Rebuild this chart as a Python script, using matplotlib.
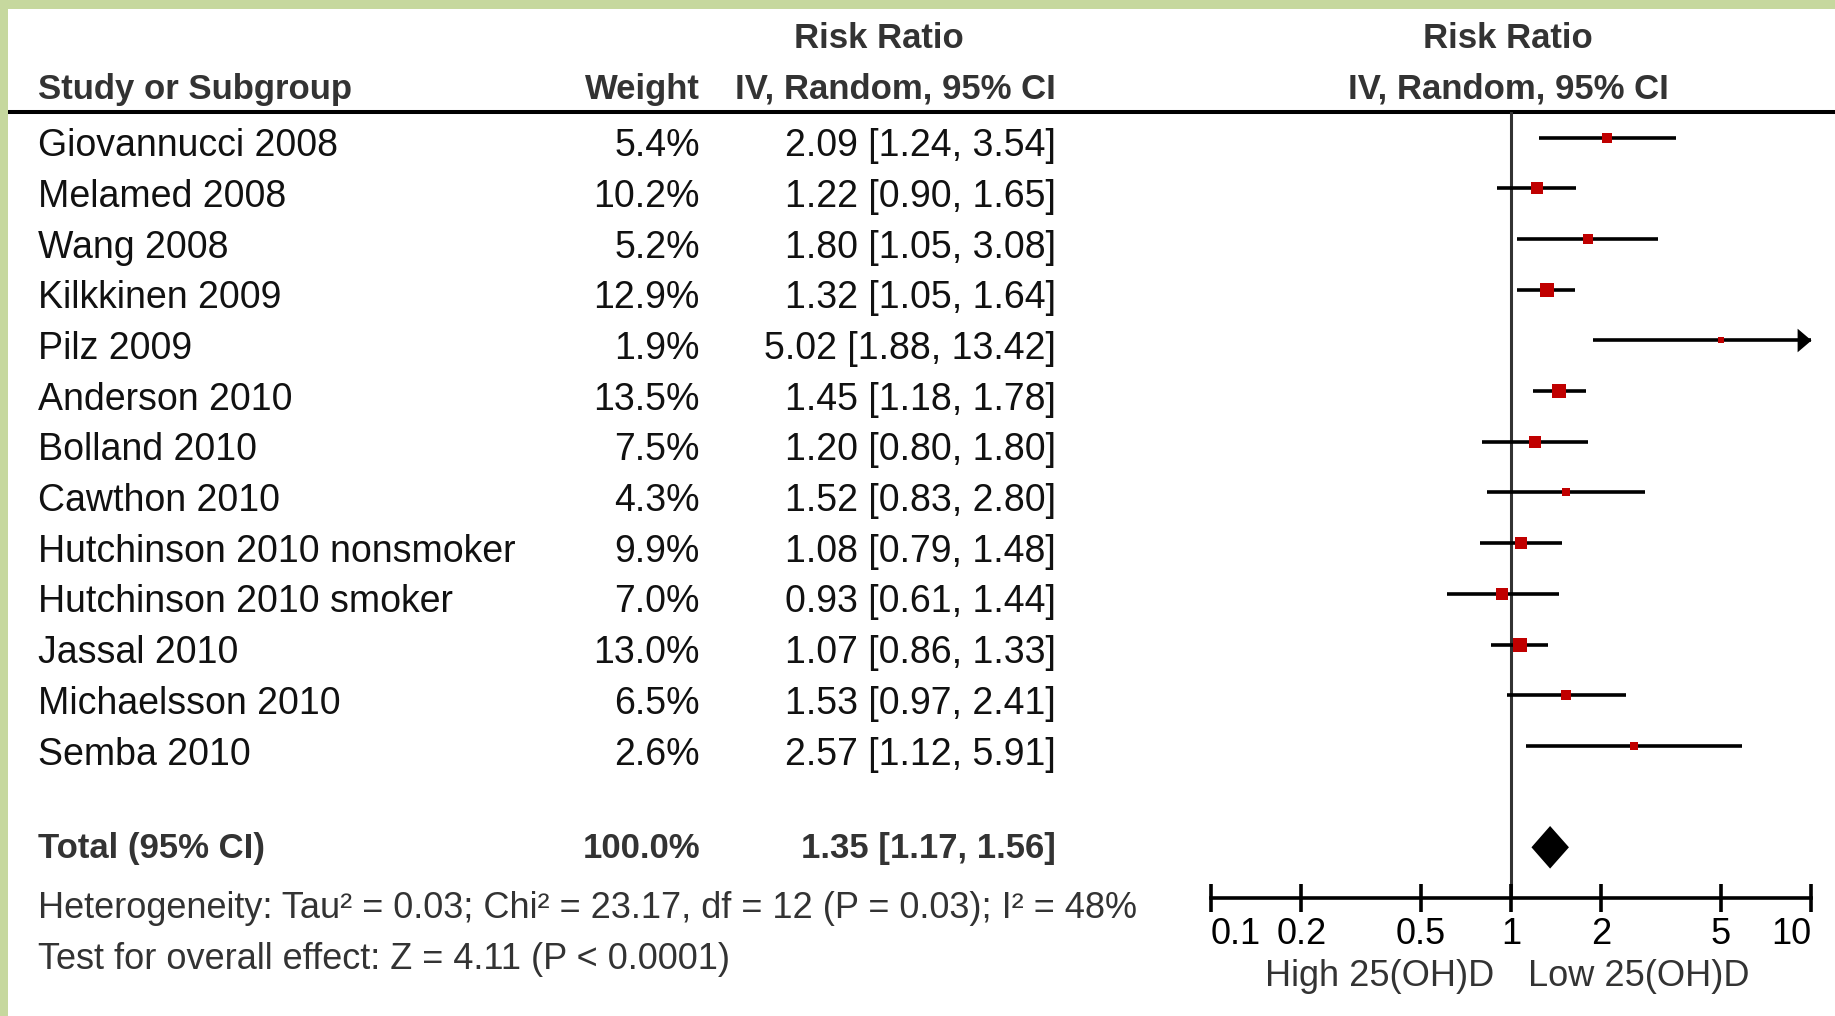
import numpy as np
import matplotlib
matplotlib.use("Agg")
import matplotlib.pyplot as plt
from matplotlib.patches import Rectangle
from matplotlib.path import Path
from matplotlib.ticker import NullLocator

# study level results (risk ratio, IV random effects)
studies = ["Giovannucci 2008", "Melamed 2008", "Wang 2008", "Kilkkinen 2009", "Pilz 2009",
           "Anderson 2010", "Bolland 2010", "Cawthon 2010", "Hutchinson 2010 nonsmoker",
           "Hutchinson 2010 smoker", "Jassal 2010", "Michaelsson 2010", "Semba 2010"]
weights = [5.4, 10.2, 5.2, 12.9, 1.9, 13.5, 7.5, 4.3, 9.9, 7.0, 13.0, 6.5, 2.6]
rr = [2.09, 1.22, 1.80, 1.32, 5.02, 1.45, 1.20, 1.52, 1.08, 0.93, 1.07, 1.53, 2.57]
ci_low = [1.24, 0.90, 1.05, 1.05, 1.88, 1.18, 0.80, 0.83, 0.79, 0.61, 0.86, 0.97, 1.12]
ci_high = [3.54, 1.65, 3.08, 1.64, 13.42, 1.78, 1.80, 2.80, 1.48, 1.44, 1.33, 2.41, 5.91]

# pooled estimate
total_weight = 100.0
total_rr, total_low, total_high = 1.35, 1.17, 1.56
heterogeneity = "Heterogeneity: Tau² = 0.03; Chi² = 23.17, df = 12 (P = 0.03); I² = 48%"
overall_test = "Test for overall effect: Z = 4.11 (P < 0.0001)"

ticks = [0.1, 0.2, 0.5, 1, 2, 5, 10]
tick_labels = ["0.1", "0.2", "0.5", "1", "2", "5", "10"]
favours = ["High 25(OH)D", "Low 25(OH)D"]

W, H = 1835, 1016
plt.rcParams['font.family'] = ['Liberation Sans', 'DejaVu Sans']
fig = plt.figure(figsize=(W / 100, H / 100), dpi=100)

# page frame and header rule, in pixel units
bg = fig.add_axes([0, 0, 1, 1])
bg.set_xlim(0, W)
bg.set_ylim(H, 0)
bg.axis('off')
bg.add_patch(Rectangle((0, 0), W, 9, color='#c6d89e', lw=0))
bg.add_patch(Rectangle((0, 0), 8, H, color='#c6d89e', lw=0))
bg.plot([8, W], [112, 112], color='black', lw=2.9, solid_capstyle='butt')

# forest plot panel: rows are in row units, x is log risk ratio
row0, step = 137.5, 50.7
top_px, axis_px = 112, 898
left_px, width_px = 1211, 600
ax = fig.add_axes([left_px / W, (H - axis_px) / H, width_px / W, (axis_px - top_px) / H])
ax.set_facecolor('none')
ax.set_xscale('log')
ax.set_xlim(0.1, 10)
ax.set_ylim((axis_px - row0) / step, (top_px - row0) / step)
for s in ['top', 'left', 'right']:
    ax.spines[s].set_visible(False)
ax.spines['bottom'].set_linewidth(2.6)
ax.set_yticks([])
ax.set_xticks(ticks)
ax.set_xticklabels(tick_labels)
ax.xaxis.set_minor_locator(NullLocator())
ax.tick_params(axis='x', direction='inout', length=20, width=2.6, pad=3.5, labelsize=26)
xt = ax.get_xticklabels()
xt[0].set_ha('left')
xt[-1].set_ha('right')

ax.axvline(1, color='#333333', lw=2.2, zorder=1)

rows = np.arange(len(studies))
hi_clip = np.minimum(ci_high, 10)
ax.hlines(rows, ci_low, hi_clip, color='black', lw=2.6, zorder=2)

# arrow where the interval runs off the scale
arrow = Path([(0, 0), (-1, 0.85), (-1, -0.85), (0, 0)],
             [Path.MOVETO, Path.LINETO, Path.LINETO, Path.CLOSEPOLY])
for r, h in zip(rows, ci_high):
    if h > 10:
        ax.plot(10, r, marker=arrow, ms=20, color='black', mew=0, clip_on=False, zorder=3)

# squares sized by weight
for r, est, w in zip(rows, rr, weights):
    side_px = 3.6 * np.sqrt(w) + 1.5
    ax.plot(est, r, marker='s', ms=side_px * 0.72, color='#c00000', mew=0, zorder=4)

total_row = 14
dh = 0.42
ax.fill([total_low, total_rr, total_high, total_rr],
        [total_row, total_row - dh, total_row, total_row + dh], color='black', lw=0, zorder=4)

# table text, x in axes fraction computed from pixel columns
tr = ax.get_yaxis_transform()
def col(px):
    return (px - left_px) / width_px

body = dict(transform=tr, fontsize=27, color='#111111', va='center')
head = dict(transform=tr, fontsize=25, color='#333333', va='center', fontweight='bold')

ax.text(col(38), -0.95, "Study or Subgroup", ha='left', **head)
ax.text(col(700), -0.95, "Weight", ha='right', **head)
ax.text(col(879), -1.95, "Risk Ratio", ha='center', **head)
ax.text(col(1056), -0.95, "IV, Random, 95% CI", ha='right', **head)
ax.text(col(1508), -1.95, "Risk Ratio", ha='center', **head)
ax.text(col(1508), -0.95, "IV, Random, 95% CI", ha='center', **head)

for r, name, w, est, lo, hi in zip(rows, studies, weights, rr, ci_low, ci_high):
    y = r + 0.17
    ax.text(col(38), y, name, ha='left', **body)
    ax.text(col(700), y, f"{w:.1f}%", ha='right', **body)
    ax.text(col(1056), y, f"{est:.2f} [{lo:.2f}, {hi:.2f}]", ha='right', **body)

ax.text(col(38), total_row + 0.02, "Total (95% CI)", ha='left', **head)
ax.text(col(700), total_row + 0.02, f"{total_weight:.1f}%", ha='right', **head)
ax.text(col(1056), total_row + 0.02, f"{total_rr:.2f} [{total_low:.2f}, {total_high:.2f}]",
        ha='right', **head)

note = dict(transform=tr, fontsize=26, color='#333333', va='center', ha='left')
ax.text(col(38), 15.2, heterogeneity, **note)
ax.text(col(38), 16.21, overall_test, **note)

ax.annotate(favours[0], xy=(1, 16.55), xytext=(-12, 0), textcoords='offset points',
            ha='right', va='center', fontsize=26, color='#333333', annotation_clip=False)
ax.annotate(favours[1], xy=(1, 16.55), xytext=(12, 0), textcoords='offset points',
            ha='left', va='center', fontsize=26, color='#333333', annotation_clip=False)

fig.savefig("out.png", dpi=100, facecolor='white')
